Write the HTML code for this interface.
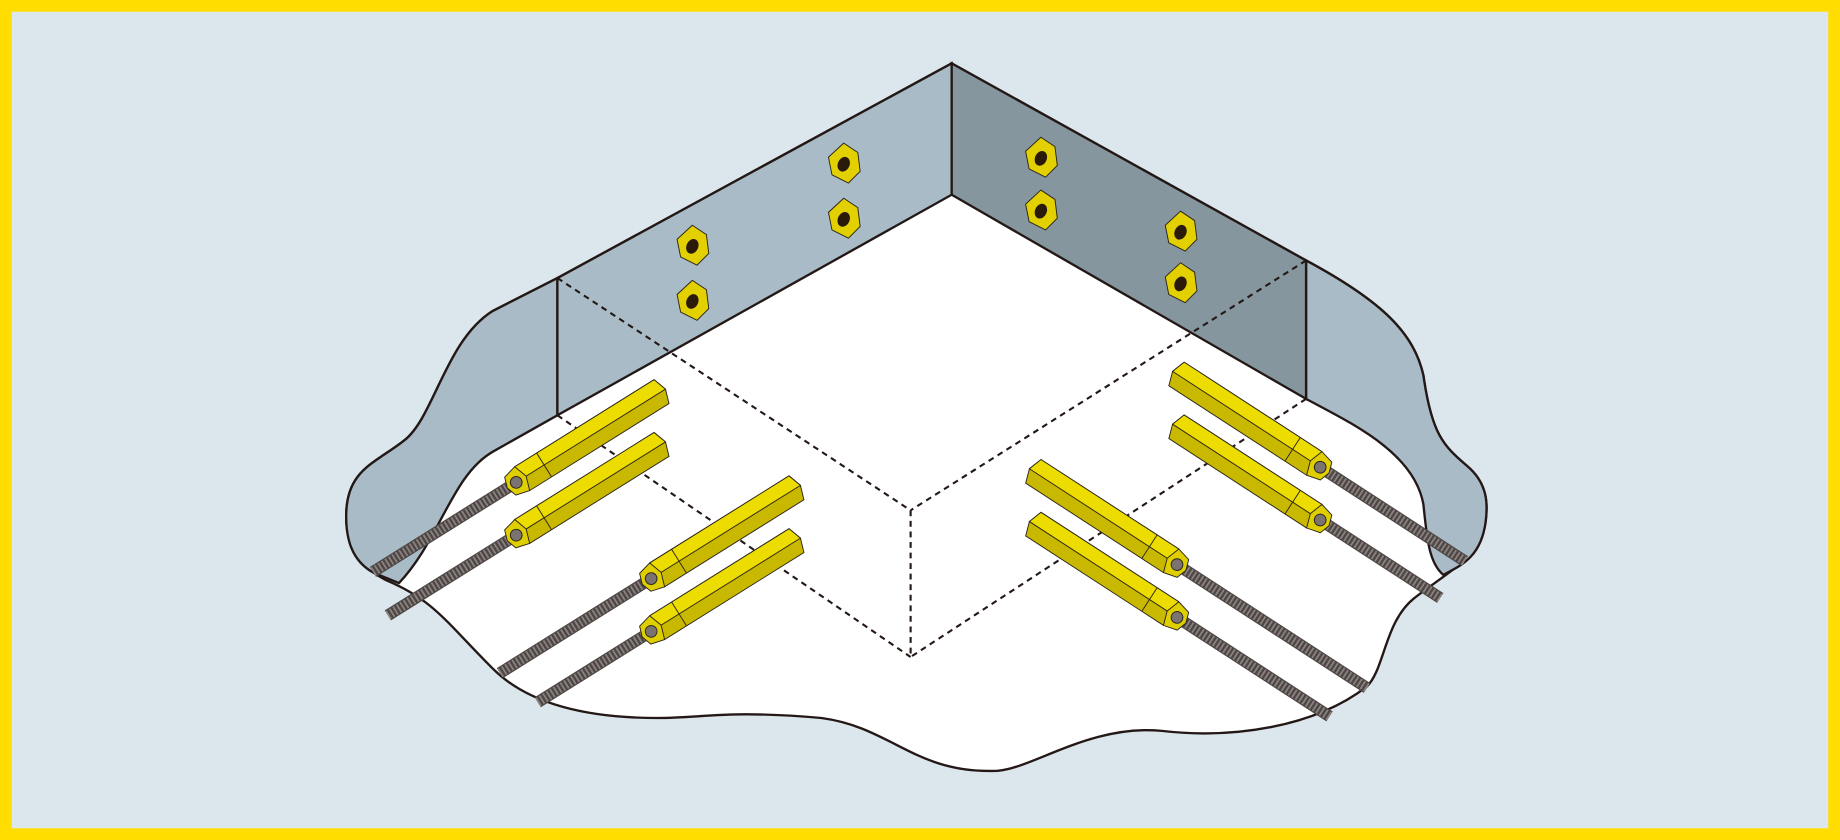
<!DOCTYPE html>
<html><head><meta charset="utf-8"><style>html,body{margin:0;padding:0;background:#dce6ed}svg{display:block}</style></head>
<body>
<svg width="1840" height="840" viewBox="0 0 1568 716" preserveAspectRatio="none" xmlns="http://www.w3.org/2000/svg">
<defs>
<g id="bar">
  <polygon points="0,-12 140,-12 144,0 140,12 0,12 -4,0" fill="#c9b800" stroke="#2a2418" stroke-width="0.8"/>
  <polygon points="0,-12 140,-12 144,0 0,0" fill="#ecdc00" stroke="#2a2418" stroke-width="0.8"/>
  <line x1="22" y1="-12" x2="22" y2="12" stroke="#2a2418" stroke-width="0.8"/>
  <polygon points="-12,-9 0,-12 4,0 0,12 -12,9 -15,0" fill="#e0cf00" stroke="#2a2418" stroke-width="0.8"/>
  <circle cx="-6" cy="0" r="5" fill="#7a7370" stroke="#2a2418" stroke-width="0.8"/>
</g>
<g id="nut">
  <polygon points="0,-18 12,-10 14,6 4,16 -10,9 -13,-6" fill="#e3d000" stroke="#2a2418" stroke-width="0.8"/>
  <ellipse cx="0" cy="0" rx="5" ry="6.5" transform="rotate(25)" fill="#2a1a0a"/>
</g>
</defs>
<rect x="0" y="0" width="1568" height="716" fill="#ffdd00"/>
<rect x="10" y="10" width="1548" height="696" fill="#dce6ed"/>

<path d="M811,54 L1113,222 C1180,258 1205,285 1213,320 C1220,370 1230,380 1250,397 C1268,412 1268,430 1266,445 C1262,475 1230,490 1205,510 C1180,530 1180,570 1165,585 C1120,620 1050,630 990,623 C930,617 880,655 850,657 C780,660 760,620 700,612 C620,605 600,612 560,612 C500,612 450,600 420,570 C380,530 370,512 330,495 C300,480 295,460 295,440 C295,400 320,395 345,375 C370,355 380,290 420,265 L475,237 Z" fill="#ffffff" stroke="#231815" stroke-width="2"/>
<path d="M475,237 L475,354 L420,385 C385,405 375,460 340,497 L318,488 C300,478 295,460 295,440 C295,400 320,395 345,375 C370,355 380,290 420,265 Z" fill="#a8bbc6" stroke="#231815" stroke-width="2"/>
<path d="M1113,222 C1180,258 1205,285 1213,320 C1220,370 1230,380 1250,397 C1268,412 1268,430 1266,445 C1262,475 1245,482 1230,490 C1218,480 1216,460 1213,430 C1205,385 1150,360 1113,340 Z" fill="#a8bbc6" stroke="#231815" stroke-width="2"/>
<polygon points="811,54 475,237 475,354 811,166" fill="#a8bbc6" stroke="#231815" stroke-width="2"/>
<polygon points="811,54 1113,222 1113,340 811,166" fill="#85969e" stroke="#231815" stroke-width="2"/>
<g stroke="#231815" stroke-width="1.8" stroke-dasharray="5,4" fill="none">
<line x1="475" y1="237" x2="776" y2="435"/>
<line x1="1113" y1="222" x2="776" y2="435"/>
<line x1="776" y1="435" x2="776" y2="560"/>
<line x1="475" y1="354" x2="776" y2="560"/>
<line x1="1113" y1="340" x2="776" y2="560"/>
</g>
<use href="#nut" x="590" y="210"/><use href="#nut" x="590" y="257"/>
<use href="#nut" x="719" y="140"/><use href="#nut" x="719" y="187"/>
<use href="#nut" x="887" y="135"/><use href="#nut" x="887" y="180"/>
<use href="#nut" x="1006" y="198"/><use href="#nut" x="1006" y="242"/>

<g transform="translate(445,408) rotate(-32)"><line x1="-150" y1="0" x2="0" y2="0" stroke="#4e4745" stroke-width="10"/><line x1="-150" y1="0" x2="0" y2="0" stroke="#8a8380" stroke-width="8" stroke-dasharray="1.5 2"/><use href="#bar"/></g>
<g transform="translate(445,453) rotate(-32)"><line x1="-135" y1="0" x2="0" y2="0" stroke="#4e4745" stroke-width="10"/><line x1="-135" y1="0" x2="0" y2="0" stroke="#8a8380" stroke-width="8" stroke-dasharray="1.5 2"/><use href="#bar"/></g>
<g transform="translate(560,490) rotate(-32)"><line x1="-158" y1="0" x2="0" y2="0" stroke="#4e4745" stroke-width="10"/><line x1="-158" y1="0" x2="0" y2="0" stroke="#8a8380" stroke-width="8" stroke-dasharray="1.5 2"/><use href="#bar"/></g>
<g transform="translate(560,535) rotate(-32)"><line x1="-120" y1="0" x2="0" y2="0" stroke="#4e4745" stroke-width="10"/><line x1="-120" y1="0" x2="0" y2="0" stroke="#8a8380" stroke-width="8" stroke-dasharray="1.5 2"/><use href="#bar"/></g>
<g transform="translate(1120,395) scale(-1,1) rotate(-33)"><line x1="-153" y1="0" x2="0" y2="0" stroke="#4e4745" stroke-width="10"/><line x1="-153" y1="0" x2="0" y2="0" stroke="#8a8380" stroke-width="8" stroke-dasharray="1.5 2"/><use href="#bar"/></g>
<g transform="translate(1120,440) scale(-1,1) rotate(-33)"><line x1="-128" y1="0" x2="0" y2="0" stroke="#4e4745" stroke-width="10"/><line x1="-128" y1="0" x2="0" y2="0" stroke="#8a8380" stroke-width="8" stroke-dasharray="1.5 2"/><use href="#bar"/></g>
<g transform="translate(998,478) scale(-1,1) rotate(-33)"><line x1="-199" y1="0" x2="0" y2="0" stroke="#4e4745" stroke-width="10"/><line x1="-199" y1="0" x2="0" y2="0" stroke="#8a8380" stroke-width="8" stroke-dasharray="1.5 2"/><use href="#bar"/></g>
<g transform="translate(998,523) scale(-1,1) rotate(-33)"><line x1="-161" y1="0" x2="0" y2="0" stroke="#4e4745" stroke-width="10"/><line x1="-161" y1="0" x2="0" y2="0" stroke="#8a8380" stroke-width="8" stroke-dasharray="1.5 2"/><use href="#bar"/></g>
</svg>
</body></html>
